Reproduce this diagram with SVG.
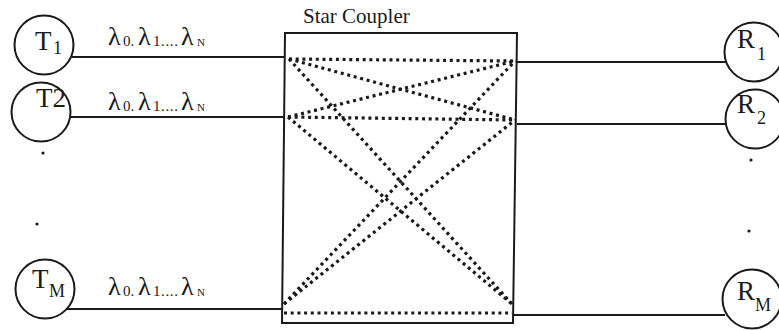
<svg xmlns="http://www.w3.org/2000/svg" width="779" height="330" viewBox="0 0 779 330">
<style>
text{font-family:"Liberation Serif","Times New Roman",serif;fill:#1a1a1a}
.node{fill:none;stroke:#1a1a1a;stroke-width:2}
.big{font-size:27px}
.sub{font-size:18px}
.lam{font-size:26px}
.ls{font-size:15px}
.ln{font-size:11px}
.wire{stroke:#1a1a1a;stroke-width:1.8;fill:none}
.dot{stroke:#1a1a1a;stroke-width:3.2;stroke-dasharray:3 3.7;fill:none}
.pt{fill:#1a1a1a}
</style>
<rect width="779" height="330" fill="#fff"/>
<g id="coupler">
<path class="node" d="M285,33 H517 L513,323 H282 Z"/>
<text x="303" y="23" style="font-size:21px">Star Coupler</text>
</g>
<g id="T1"><circle class="node" cx="44" cy="45" r="29.5"/><text class="big" x="35" y="50">T</text><text class="sub" x="53" y="54">1</text></g>
<g id="T2"><circle class="node" cx="41" cy="112" r="29.5"/><text class="big" x="36" y="107">T2</text></g>
<g id="TM"><circle class="node" cx="45" cy="289" r="29.5"/><text class="big" x="32" y="288">T</text><text class="sub" x="49" y="297">M</text></g>
<g id="R1"><circle class="node" cx="754" cy="52" r="29.5"/><text class="big" x="737" y="48">R</text><text class="sub" x="757" y="60">1</text></g>
<g id="R2"><circle class="node" cx="755" cy="119" r="29.5"/><text class="big" x="737" y="113">R</text><text class="sub" x="757" y="124">2</text></g>
<g id="RM"><circle class="node" cx="752" cy="299" r="29.5"/><text class="big" x="737" y="300">R</text><text class="sub" x="755" y="311">M</text></g>
<g id="ellipsis">
<circle class="pt" cx="43" cy="153" r="1.6"/><circle class="pt" cx="37" cy="224" r="1.6"/>
<circle class="pt" cx="751" cy="160" r="1.6"/><circle class="pt" cx="749" cy="231" r="1.6"/>
</g>
<g id="labels">
<text class="lam" y="45"><tspan x="108">λ</tspan><tspan class="ls" x="123" y="46">0.</tspan><tspan x="138" y="45">λ</tspan><tspan class="ls" x="153" y="46" letter-spacing="0.6">1....</tspan><tspan x="181" y="45">λ</tspan><tspan class="ln" x="197" y="46">N</tspan></text>
<text class="lam" y="110"><tspan x="108">λ</tspan><tspan class="ls" x="123" y="111">0.</tspan><tspan x="138" y="110">λ</tspan><tspan class="ls" x="153" y="111" letter-spacing="0.6">1....</tspan><tspan x="181" y="110">λ</tspan><tspan class="ln" x="197" y="111">N</tspan></text>
<text class="lam" y="295"><tspan x="108">λ</tspan><tspan class="ls" x="123" y="296">0.</tspan><tspan x="138" y="295">λ</tspan><tspan class="ls" x="153" y="296" letter-spacing="0.6">1....</tspan><tspan x="181" y="295">λ</tspan><tspan class="ln" x="197" y="296">N</tspan></text>
</g>
<g id="connectors">
<line class="wire" x1="72" y1="57" x2="285" y2="57"/>
<line class="wire" x1="70" y1="117" x2="285" y2="117"/>
<line class="wire" x1="67" y1="309" x2="283" y2="309"/>
<line class="wire" x1="517" y1="62" x2="726" y2="62"/>
<line class="wire" x1="517" y1="124" x2="726" y2="124"/>
<line class="wire" x1="513" y1="315" x2="725" y2="315"/>
<line class="dot" x1="289" y1="59" x2="515" y2="61"/>
<line class="dot" x1="289" y1="59" x2="515" y2="120"/>
<line class="dot" x1="289" y1="59" x2="512" y2="304"/>
<line class="dot" x1="288" y1="117" x2="515" y2="61"/>
<line class="dot" x1="288" y1="117" x2="515" y2="120"/>
<line class="dot" x1="288" y1="117" x2="512" y2="304"/>
<line class="dot" x1="284" y1="304" x2="515" y2="61"/>
<line class="dot" x1="284" y1="304" x2="515" y2="120"/>
<line class="dot" x1="284" y1="313" x2="512" y2="313"/>
</g>
</svg>
